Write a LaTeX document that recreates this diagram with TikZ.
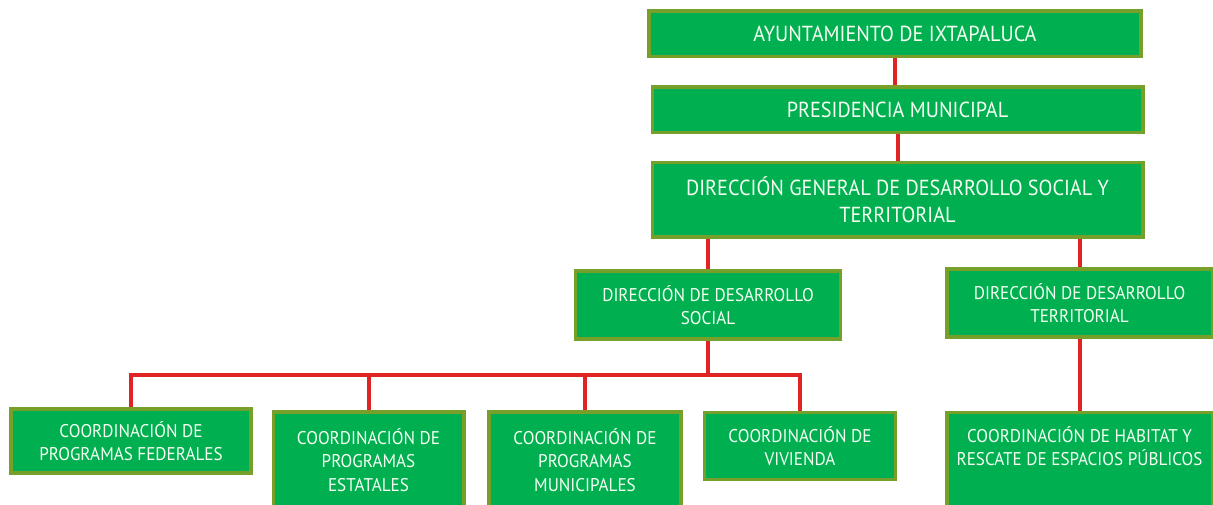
\documentclass[tikz,border=0pt]{standalone}
\usepackage{fontspec}
\setmainfont{PT Sans}[FakeStretch=0.93]
\usepackage{xcolor}
\definecolor{cajaverde}{HTML}{00B050}
\definecolor{bordeolivo}{HTML}{76A02A}
\definecolor{lineared}{HTML}{E02423}
\definecolor{textoclaro}{HTML}{F4FFF2}

\begin{document}
\begin{tikzpicture}[x=0.75pt,y=-0.75pt,
    caja/.style={draw=bordeolivo,fill=cajaverde,line width=2.5pt,
      text=textoclaro,align=center,inner sep=2pt,font=\fontsize{13.8}{17.8}\selectfont},
    cajagrande/.style={caja,font=\fontsize{16.3}{20}\selectfont},
    liga/.style={draw=lineared,line width=3pt}]
                    \useasboundingbox (0,0) rectangle (1213,504);
                    \clip (0,0) rectangle (1213,504);

                    \node[cajagrande,minimum width=369pt,minimum height=34pt] (ayto) at (895,33.5) {AYUNTAMIENTO DE IXTAPALUCA};
                    \node[cajagrande,minimum width=368pt,minimum height=34pt] (presi) at (897.5,109.5) {PRESIDENCIA MUNICIPAL};
                    \node[cajagrande,minimum width=368pt,minimum height=56pt] (dgdst) at (897.5,199.5) {DIRECCIÓN GENERAL DE DESARROLLO SOCIAL Y\\TERRITORIAL};

                    \node[caja,minimum width=199pt,minimum height=51pt] (dds) at (708,305) {DIRECCIÓN DE DESARROLLO\\SOCIAL};
                    \node[caja,minimum width=199pt,minimum height=51pt] (ddt) at (1079.5,303) {DIRECCIÓN DE DESARROLLO\\TERRITORIAL};

                    \node[caja,minimum width=180pt,minimum height=48pt] (cpf) at (131,441) {COORDINACIÓN DE\\PROGRAMAS FEDERALES};
                    \node[caja,minimum width=143pt,minimum height=72pt] (cpe) at (368.5,460) {COORDINACIÓN DE\\PROGRAMAS\\ESTATALES};
                    \node[caja,minimum width=144pt,minimum height=72pt] (cpm) at (585,460) {COORDINACIÓN DE\\PROGRAMAS\\MUNICIPALES};
                    \node[caja,minimum width=143pt,minimum height=50pt] (cviv) at (800,446) {COORDINACIÓN DE\\VIVIENDA};
                    \node[caja,minimum width=199pt,anchor=north,inner ysep=10pt,text depth=48pt] (chab) at (1079.5,411) {COORDINACIÓN DE HABITAT Y\\RESCATE DE ESPACIOS PÚBLICOS};

                    \coordinate (bus) at (708,375);

                    \draw[liga] (ayto.south) -- (ayto.south |- presi.north);
                    \draw[liga] (presi.south) -- (presi.south |- dgdst.north);
                    \draw[liga] (dds.north) -- (dds.north |- dgdst.south);
                    \draw[liga] (ddt.north) -- (ddt.north |- dgdst.south);
                    \draw[liga] (dds.south) -- (bus);
                    \draw[liga] (cpf.north) -- (cpf.north |- bus) -- (cviv.north |- bus) -- (cviv.north);
                    \draw[liga] (cpe.north) -- (cpe.north |- bus);
                    \draw[liga] (cpm.north) -- (cpm.north |- bus);
                    \draw[liga] (ddt.south) -- (chab.north);
                \end{tikzpicture}
\end{document}
